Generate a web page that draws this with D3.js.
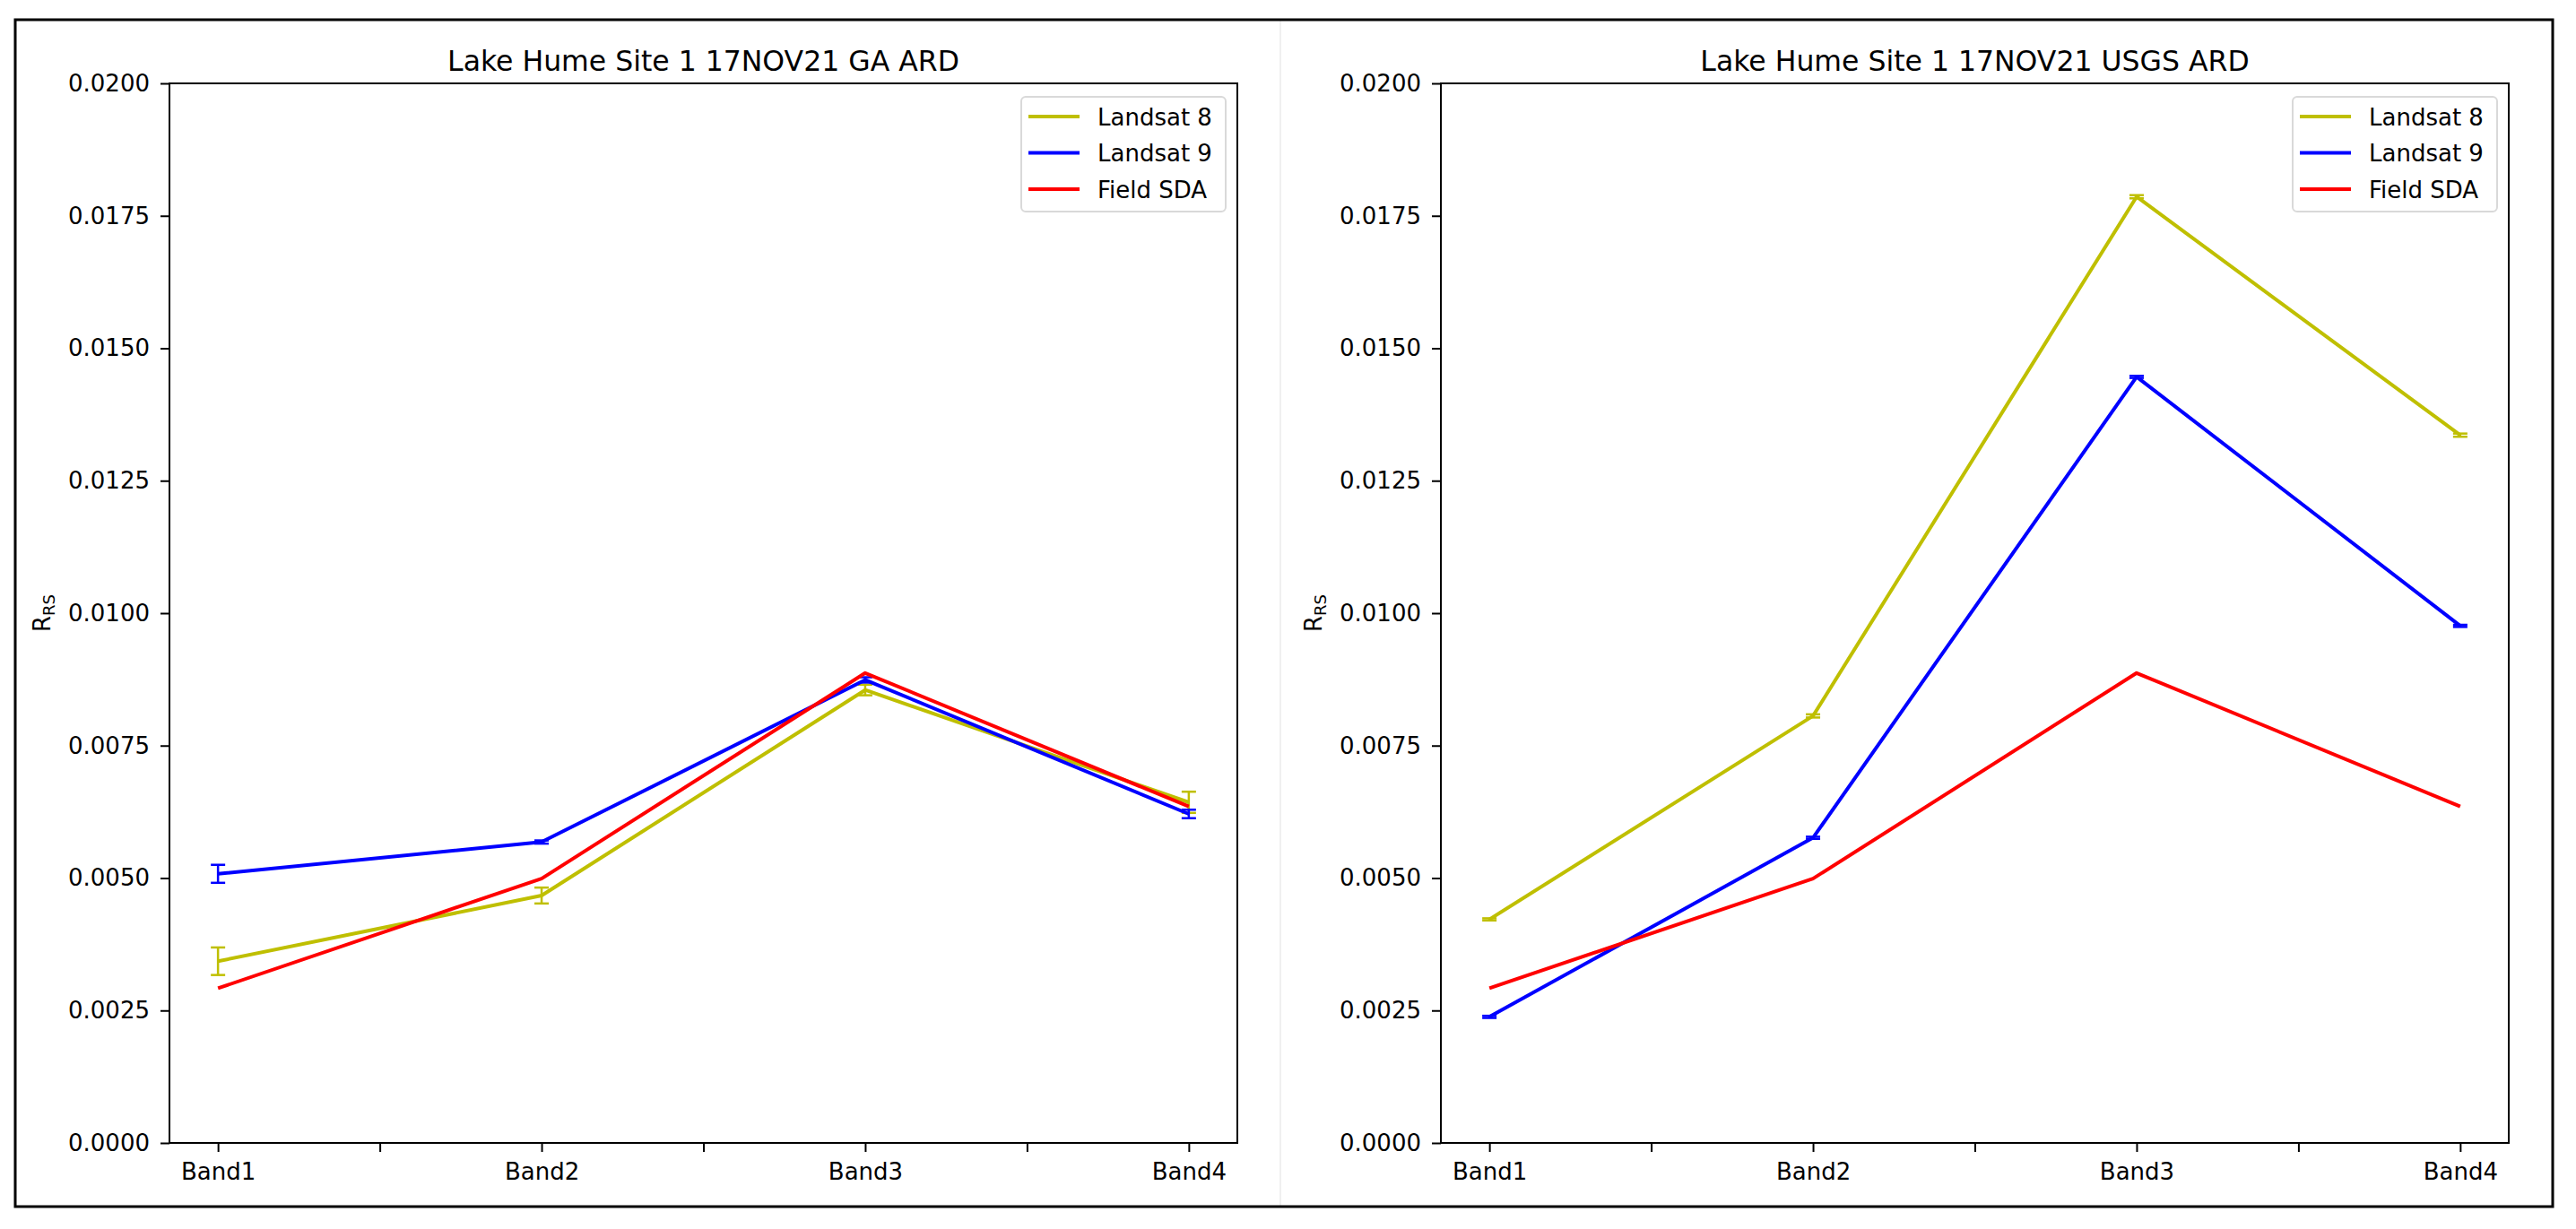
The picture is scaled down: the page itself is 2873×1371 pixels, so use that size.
<!DOCTYPE html>
<html>
<head>
<meta charset="utf-8">
<script src="https://cdn.jsdelivr.net/npm/d3@7"></script>
<style>
  body { margin: 0; background: #fff; }
  text { font-family: "DejaVu Sans", sans-serif; }
</style>
</head>
<body>
<div id="chart-area"></div>
<script>
const WIDTH = 2873
const HEIGHT = 1371

// categories and ticks
const bands = ["Band1", "Band2", "Band3", "Band4"]
const xTicks = [0, 0.5, 1, 1.5, 2, 2.5, 3]
const yTicks = [0, 0.0025, 0.005, 0.0075, 0.01, 0.0125, 0.015, 0.0175, 0.02]
const seriesNames = ["Landsat 8", "Landsat 9", "Field SDA"]
const seriesColors = ["#bfbf00", "#0000ff", "#ff0000"]

// GA ARD
const gaLandsat8 = [0.00343, 0.00467, 0.00855, 0.00643]
const gaLandsat8Err = [0.00026, 0.00015, 0.00010, 0.00020]
const gaLandsat9 = [0.00508, 0.00568, 0.00874, 0.00621]
const gaLandsat9Err = [0.00017, 0.00003, 0.00005, 0.00008]

// USGS ARD
const usgsLandsat8 = [0.00422, 0.00806, 0.01786, 0.01336]
const usgsLandsat8Err = [0.00002, 0.00003, 0.00003, 0.00003]
const usgsLandsat9 = [0.00238, 0.00576, 0.01446, 0.00976]
const usgsLandsat9Err = [0.00002, 0.00002, 0.00002, 0.00002]

// field measurement (same in both)
const fieldSDA = [0.00292, 0.00499, 0.00887, 0.00635]

const PLOT = { TOP: 93, W: 1191, H: 1182 }

const svg = d3.select("#chart-area").append("svg")
  .attr("width", WIDTH)
  .attr("height", HEIGHT)

svg.append("rect")
  .attr("width", WIDTH).attr("height", HEIGHT)
  .attr("fill", "#fff")

// faint seam between the two pictures
svg.append("line")
  .attr("x1", 1428).attr("x2", 1428)
  .attr("y1", 23).attr("y2", 1346)
  .attr("stroke", "#f0f0f0").attr("stroke-width", 2)

// outer frame
svg.append("rect")
  .attr("x", 17).attr("y", 22)
  .attr("width", 2830).attr("height", 1324)
  .attr("fill", "none")
  .attr("stroke", "#000")
  .attr("stroke-width", 3)

function drawPanel(left, title, series) {
  const g = svg.append("g")
    .attr("transform", `translate(${left}, ${PLOT.TOP})`)

  const x = d3.scaleLinear().domain([-0.15, 3.15]).range([0, PLOT.W])
  const y = d3.scaleLinear().domain([0, 0.02]).range([PLOT.H, 0])

  // Title
  g.append("text")
    .attr("x", PLOT.W / 2)
    .attr("y", -14)
    .attr("text-anchor", "middle")
    .attr("font-size", "31.5px")
    .attr("fill", "#000")
    .text(title)

  // Y axis
  const yAxisCall = d3.axisLeft(y)
    .tickValues(yTicks)
    .tickFormat(d3.format(".4f"))
    .tickSize(10)
    .tickPadding(12)
  const ya = g.append("g").call(yAxisCall)
  ya.select(".domain").remove()
  ya.attr("font-size", 26).attr("font-family", "DejaVu Sans")
  ya.selectAll("line").attr("stroke-width", 2)

  // X axis
  const xAxisCall = d3.axisBottom(x)
    .tickValues(xTicks)
    .tickFormat(d => Number.isInteger(d) ? bands[d] : "")
    .tickSize(10)
    .tickPadding(13)
  const xa = g.append("g")
    .attr("transform", `translate(0, ${PLOT.H})`)
    .call(xAxisCall)
  xa.select(".domain").remove()
  xa.attr("font-size", 26).attr("font-family", "DejaVu Sans")
  xa.selectAll("line").attr("stroke-width", 2)

  // Y label  R_RS
  const lab = g.append("text")
    .attr("transform", `translate(-133, ${PLOT.H / 2}) rotate(-90)`)
    .attr("text-anchor", "middle")
    .attr("font-size", "26px")
    .attr("fill", "#000")
  lab.append("tspan").text("R")
  lab.append("tspan").attr("font-size", "18px").attr("dy", 5).text("RS")

  const line = d3.line()
    .x((d, i) => x(i))
    .y(d => y(d))

  series.forEach((s, k) => {
    g.append("path")
      .datum(s.values)
      .attr("d", line)
      .attr("fill", "none")
      .attr("stroke", seriesColors[k])
      .attr("stroke-width", 4)
      .attr("stroke-linejoin", "round")

    if (s.err) {
      const eb = g.append("g").attr("stroke", seriesColors[k]).attr("stroke-width", 2.5)
      s.values.forEach((v, i) => {
        const lo = y(v - s.err[i]), hi = y(v + s.err[i])
        eb.append("line").attr("x1", x(i)).attr("x2", x(i)).attr("y1", lo).attr("y2", hi)
        eb.append("line").attr("x1", x(i) - 8).attr("x2", x(i) + 8).attr("y1", lo).attr("y2", lo)
        eb.append("line").attr("x1", x(i) - 8).attr("x2", x(i) + 8).attr("y1", hi).attr("y2", hi)
      })
    }
  })

  // spines
  g.append("rect")
    .attr("width", PLOT.W).attr("height", PLOT.H)
    .attr("fill", "none")
    .attr("stroke", "#000")
    .attr("stroke-width", 2)

  // Legend
  const lg = g.append("g")
    .attr("transform", `translate(${PLOT.W - 241}, 15)`)
  lg.append("rect")
    .attr("width", 228).attr("height", 128)
    .attr("rx", 5)
    .attr("fill", "#fff").attr("fill-opacity", 0.8)
    .attr("stroke", "#d9d9d9").attr("stroke-width", 2)
  seriesNames.forEach((name, k) => {
    const ly = 22 + k * 40.5
    lg.append("line")
      .attr("x1", 8).attr("x2", 65)
      .attr("y1", ly).attr("y2", ly)
      .attr("stroke", seriesColors[k]).attr("stroke-width", 4)
    lg.append("text")
      .attr("x", 85).attr("y", ly + 9.5)
      .attr("font-size", "26px")
      .attr("fill", "#000")
      .text(name)
  })
}

drawPanel(189, "Lake Hume Site 1 17NOV21 GA ARD", [
  { values: gaLandsat8, err: gaLandsat8Err },
  { values: gaLandsat9, err: gaLandsat9Err },
  { values: fieldSDA }
])

drawPanel(1607, "Lake Hume Site 1 17NOV21 USGS ARD", [
  { values: usgsLandsat8, err: usgsLandsat8Err },
  { values: usgsLandsat9, err: usgsLandsat9Err },
  { values: fieldSDA }
])
</script>
</body>
</html>
